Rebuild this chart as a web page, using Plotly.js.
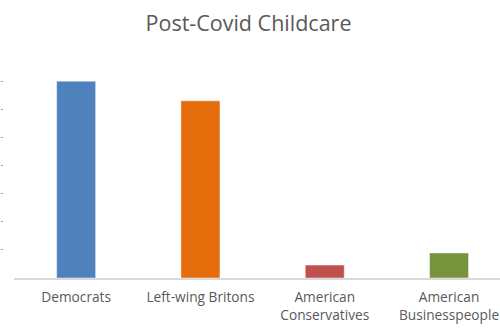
<!DOCTYPE html>
<html>
<head>
<meta charset="utf-8">
<script src="https://cdn.plot.ly/plotly-3.0.1.min.js"></script>
<style>html,body{margin:0;padding:0;background:#fff;}#chart{width:500px;height:330px;}</style>
</head>
<body>
<div id="chart"></div>
<script>
const categories = ["Democrats", "Left-wing Britons", "American<br>Conservatives", "American<br>Businesspeople"];
const values = [70, 63, 4.6, 8.9];
const colors = ["#4f81bd", "#e46c0a", "#c0504d", "#77933c"];
const yTicks = [0, 10, 20, 30, 40, 50, 60, 70, 80];

const trace = {
  type: "bar",
  x: categories,
  y: values,
  width: 0.314,
  marker: {color: colors, line: {color: "rgba(255,255,255,0.6)", width: 0.8}},
  hoverinfo: "none"
};

const layout = {
  width: 500, height: 330,
  margin: {l: 0, r: 0, t: 53, b: 52},
  paper_bgcolor: "#ffffff",
  plot_bgcolor: "#ffffff",
  showlegend: false,
  title: {text: "Post-Covid Childcare", x: 0.497, xanchor: "center", y: 0.93, yanchor: "middle",
          font: {family: "Open Sans", size: 21.5, color: "#595959"}},
  xaxis: {
    domain: [0.028, 1],
    range: [-0.5, 3.41],
    showline: true, linecolor: "#d9d9d9", linewidth: 1.5,
    showgrid: false, zeroline: false, ticks: "",
    ticklabelstandoff: 6,
    tickfont: {family: "Open Sans", size: 13.7, color: "#595959"},
    fixedrange: true
  },
  yaxis: {
    range: [0, 80],
    anchor: "free", position: 0,
    tickvals: yTicks,
    ticks: "inside", ticklen: 2, tickwidth: 1, tickcolor: "#9a9a9a",
    showticklabels: false, showgrid: false, zeroline: false, showline: false,
    fixedrange: true
  }
};

Plotly.newPlot("chart", [trace], layout, {displayModeBar: false, staticPlot: true});
</script>
</body>
</html>
